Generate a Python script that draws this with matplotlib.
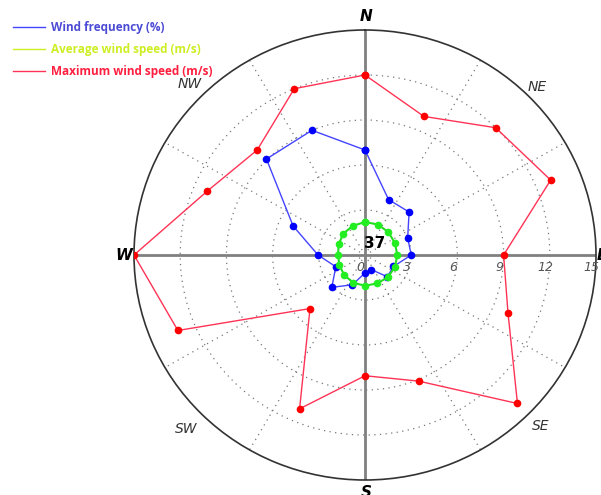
import numpy as np
import matplotlib
matplotlib.use('Agg')
import matplotlib.pyplot as plt
from matplotlib.lines import Line2D

directions = ['N', 'NNE', 'NE', 'ENE', 'E', 'ESE', 'SE', 'SSE',
              'S', 'SSW', 'SW', 'WSW', 'W', 'WNW', 'NW', 'NNW']
wind_freq = [7.0, 4.0, 4.05, 3.0, 3.0, 2.0, 2.05, 1.05,
             1.2, 2.15, 3.05, 2.05, 3.05, 5.05, 9.05, 9.0]
avg_speed = [2.2, 2.2, 2.15, 2.1, 2.1, 2.1, 2.1, 2.05,
             2.05, 2.0, 1.9, 1.8, 1.75, 1.85, 2.0, 2.1]
max_speed = [12.0, 10.0, 12.0, 13.05, 9.0, 10.05, 14.0, 9.1,
             8.05, 11.1, 5.05, 13.15, 15.0, 11.1, 9.9, 12.0]
r_ticks = [0, 3, 6, 9, 12, 15]
compass = ['N', 'E', 'S', 'W']
inter = ['NE', 'SE', 'SW', 'NW']
station = '37'
legend_labels = ['Wind frequency (%)', 'Average wind speed (m/s)',
                 'Maximum wind speed (m/s)']
legend_colors = ['#4b4bd6', '#ccee22', '#ff2040']
line_colors = ['#4444ff', '#ccee22', '#ff3355']

theta = np.deg2rad(np.arange(len(directions)) * 22.5)
theta_c = np.append(theta, theta[0])


def closed(v):
    return np.append(v, v[0])


fig = plt.figure(figsize=(6.01, 4.95), dpi=100)
ax = fig.add_axes([134 / 601, 15 / 495, 462 / 601, 450 / 495], projection='polar')
ax.set_aspect('auto')
ax.set_theta_zero_location('N')
ax.set_theta_direction(-1)
ax.set_ylim(0, 15)
ax.set_axisbelow(True)

# dotted rings/spokes, solid outer ring
ax.set_yticks(r_ticks[1:-1])
ax.set_yticklabels([])
ax.set_xticks(np.deg2rad(np.arange(0, 360, 30)))
ax.set_xticklabels([])
ax.grid(True, color='#777777', linestyle=(0, (1, 3.5)), linewidth=0.9)
ax.spines['polar'].set_color('#333333')
ax.spines['polar'].set_linewidth(1.2)

for a in range(0, 360, 90):
    ax.plot([np.deg2rad(a)] * 2, [0, 15], color='#808080', lw=2, zorder=1)

ax.plot(theta_c, closed(max_speed), color='#ff3355', lw=1,
        marker='o', markersize=4.5, mfc='#ff0000', mec='#ff0000', zorder=3)
ax.plot(theta_c, closed(wind_freq), color='#4444ff', lw=1,
        marker='o', markersize=4.5, mfc='#0000ff', mec='#0000ff', zorder=4)
ax.plot(theta_c, closed(avg_speed), color='#22dd22', lw=1.5,
        marker='o', markersize=4.5, mfc='#22ee22', mec='#22ee22', zorder=5)

for v in r_ticks:
    ax.annotate(str(v), xy=(np.pi / 2, v), xytext=(-3, -9),
                textcoords='offset points', ha='center', va='center',
                fontsize=9, style='italic', color='#555555')

offs = {'N': (1, 10), 'E': (4, 0), 'S': (1, -9), 'W': (-7, 0)}
for i, d in enumerate(compass):
    ax.annotate(d, xy=(np.deg2rad(i * 90), 15), xytext=offs[d],
                textcoords='offset points', ha='center', va='center',
                fontsize=11, fontweight='bold', style='italic', color='black',
                annotation_clip=False)
inter_r = [15.8, 16.1, 16.4, 16.1]
for i, d in enumerate(inter):
    ax.text(np.deg2rad(45 + i * 90), inter_r[i], d, ha='center', va='center',
            fontsize=10, style='italic', color='#333333')

ax.annotate(station, xy=(0, 0), xytext=(7, 8), textcoords='offset points',
            ha='center', va='center', fontsize=11, fontweight='bold')

# legend, top left
for i, lab in enumerate(legend_labels):
    y = 1 - (27 + 22 * i) / 495
    fig.add_artist(Line2D([13 / 601, 45 / 601], [y, y], color=line_colors[i], lw=1))
    fig.text(51 / 601, y, lab, color=legend_colors[i], fontsize=8.5,
             fontweight='bold', family='Open Sans', va='center', ha='left')

fig.savefig('out.png', dpi=100)
